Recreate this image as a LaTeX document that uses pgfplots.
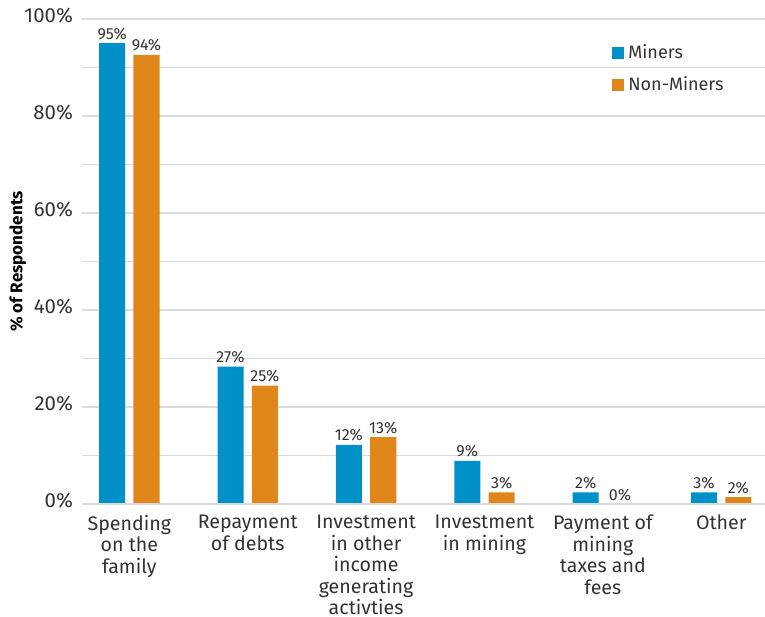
\documentclass[border=0pt]{standalone}
\usepackage{pgfplots}
\pgfplotsset{compat=1.18}
\usepackage{fontspec}
\setmainfont{Fira Sans}
\definecolor{minblue}{HTML}{0091C8}
\definecolor{nonorange}{HTML}{E0861A}
\definecolor{gridgray}{HTML}{DEDCDA}
\definecolor{txt}{HTML}{333333}
\begin{document}
\begin{tikzpicture}
\useasboundingbox (-41pt,-56pt) rectangle (341.5pt,252pt);
\begin{axis}[
  scale only axis,
  width=341.5pt, height=242.5pt,
  xmin=-0.4, xmax=5.37, ymin=0, ymax=100,
  axis line style={draw=none},
  ybar,
  bar width=0.22,
  xtick={0,1,2,3,4,5},
  xticklabels={{Spending\\on the\\family},{Repayment\\of debts},{Investment\\in other\\income\\generating\\activties},{Investment\\in mining},{Payment of\\mining\\taxes and\\fees},{Other}},
  xticklabel style={align=center, font=\fontsize{9.8}{10.8}\selectfont, text=txt, yshift=-2pt},
  major tick length=0pt, minor tick length=0pt,
  ytick={0,20,40,60,80,100},
  yticklabel={\pgfmathprintnumber{\tick}\%},
  yticklabel style={font=\fontsize{10.2}{11}\selectfont, text=txt, xshift=-1pt, yshift=1.5pt},
  /pgf/number format/assume math mode=true,
  minor ytick={10,30,50,70,90},
  ymajorgrids, yminorgrids,
  major grid style={gridgray, line width=0.8pt},
  minor grid style={gridgray, line width=0.8pt},
  ylabel={\textbf{\% of Respondents}},
  ylabel style={font=\fontsize{8.5}{10}\selectfont, text=black, at={(axis description cs:-0.094,0.5)}, anchor=center},
  nodes near coords,
  point meta=explicit symbolic,
  every node near coord/.append style={font=\fontsize{8}{9}\selectfont, text=txt, inner sep=1.5pt},
  legend style={at={(0.776,0.957)}, anchor=north west, draw=none, fill=none, font=\fontsize{9}{11}\selectfont, text=txt, row sep=3.5pt, inner sep=0pt},
  legend cell align=left,
  legend image code/.code={\fill[#1] (0pt,-3pt) rectangle (6pt,3pt);},
]
\addplot[fill=minblue, draw=none, bar shift=-0.145] coordinates {
 (0,95.0) [95\%] (1,28.3) [27\%] (2,12.2) [12\%] (3,8.9) [9\%] (4,2.4) [2\%] (5,2.4) [3\%]};
\addlegendentry{Miners}
\addplot[fill=nonorange, draw=none, bar shift=0.145] coordinates {
 (0,92.6) [94\%] (1,24.4) [25\%] (2,13.8) [13\%] (3,2.4) [3\%] (4,0) [0\%] (5,1.4) [2\%]};
\addlegendentry{Non-Miners}
\draw[gridgray, line width=1pt] (axis cs:-0.4,0) -- (axis cs:5.37,0);
\end{axis}
\end{tikzpicture}
\end{document}
